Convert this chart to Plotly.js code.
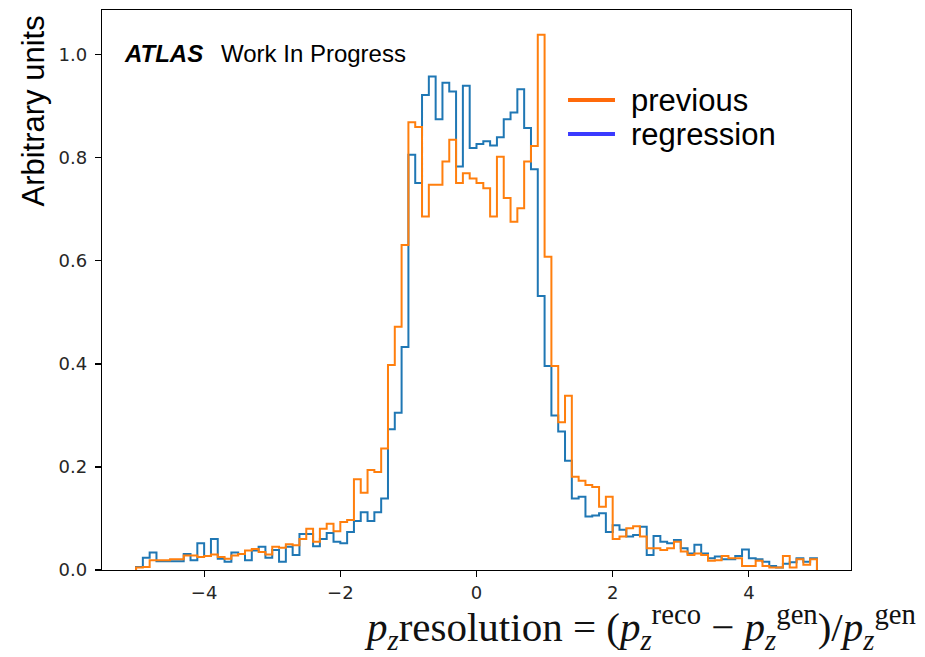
<!DOCTYPE html>
<html>
<head>
<meta charset="utf-8">
<script src="https://cdn.plot.ly/plotly-3.0.1.min.js"></script>
<style>
  html, body { margin: 0; padding: 0; background: #ffffff; }
  #chart { width: 925px; height: 657px; }
</style>
</head>
<body>
<div id="chart"></div>
<script>
// Histogram binning: 100 bins of width 0.1 between -5 and 5
const binLow = -5;
const binWidth = 0.1;

// Normalised bin contents, regression-based reconstruction
const regressionValues = [
  0.006, 0.024, 0.034, 0.017, 0.017, 0.017, 0.017, 0.031, 0.019, 0.052,
  0.027, 0.060, 0.022, 0.016, 0.034, 0.031, 0.019, 0.038, 0.045, 0.024,
  0.039, 0.016, 0.045, 0.029, 0.070, 0.070, 0.046, 0.060, 0.072, 0.055,
  0.052, 0.074, 0.095, 0.112, 0.095, 0.112, 0.139, 0.273, 0.305, 0.433,
  0.806, 0.751, 0.922, 0.958, 0.875, 0.946, 0.929, 0.783, 0.940, 0.819,
  0.827, 0.832, 0.824, 0.840, 0.875, 0.888, 0.933, 0.858, 0.778, 0.532,
  0.396, 0.300, 0.269, 0.212, 0.139, 0.142, 0.104, 0.106, 0.110, 0.074,
  0.087, 0.078, 0.065, 0.068, 0.084, 0.029, 0.066, 0.055, 0.052, 0.058,
  0.042, 0.032, 0.049, 0.032, 0.023, 0.026, 0.021, 0.021, 0.027, 0.040,
  0.023, 0.021, 0.016, 0.008, 0.005, 0.012, 0.015, 0.023, 0.016, 0.023
];

// Normalised bin contents, previous reconstruction
const previousValues = [
  0.005, 0.006, 0.019, 0.019, 0.019, 0.021, 0.021, 0.028, 0.028, 0.025,
  0.027, 0.030, 0.025, 0.022, 0.028, 0.031, 0.038, 0.041, 0.035, 0.030,
  0.045, 0.043, 0.050, 0.048, 0.060, 0.080, 0.055, 0.080, 0.090, 0.075,
  0.093, 0.097, 0.176, 0.150, 0.194, 0.190, 0.236, 0.398, 0.472, 0.631,
  0.869, 0.860, 0.686, 0.748, 0.748, 0.793, 0.835, 0.751, 0.770, 0.760,
  0.751, 0.741, 0.686, 0.802, 0.722, 0.676, 0.702, 0.793, 0.823, 1.039,
  0.608, 0.396, 0.287, 0.338, 0.181, 0.173, 0.165, 0.161, 0.123, 0.142,
  0.060, 0.065, 0.081, 0.085, 0.065, 0.042, 0.042, 0.039, 0.042, 0.055,
  0.036, 0.029, 0.032, 0.029, 0.018, 0.019, 0.027, 0.023, 0.023, 0.008,
  0.008, 0.018, 0.008, 0.005, 0.005, 0.027, 0.005, 0.021, 0.010, 0.021
];

const yTickValues = [0.0, 0.2, 0.4, 0.6, 0.8, 1.0];
const xTickValues = [-4, -2, 0, 2, 4];
const legendNames = ['previous', 'regression'];
const legendColors = ['#ff6a0a', '#3a3aff'];

// Build a step outline (histtype="step" style) from bin contents
function stepOutline(values) {
  const xs = [binLow];
  const ys = [0];
  values.forEach(function (v, i) {
    xs.push(binLow + i * binWidth);
    ys.push(v);
  });
  xs.push(binLow + values.length * binWidth);
  ys.push(0);
  return { x: xs, y: ys };
}

const regStep = stepOutline(regressionValues);
const prevStep = stepOutline(previousValues);

const traces = [
  {
    x: regStep.x, y: regStep.y, type: 'scatter', mode: 'lines', name: 'regression',
    line: { shape: 'hv', color: '#1f77b4', width: 2 },
    showlegend: false, hoverinfo: 'skip'
  },
  {
    x: prevStep.x, y: prevStep.y, type: 'scatter', mode: 'lines', name: 'previous',
    line: { shape: 'hv', color: '#ff7f0e', width: 2 },
    showlegend: false, hoverinfo: 'skip'
  }
];

const axisCommon = {
  showline: true, linecolor: '#000000', linewidth: 1.2, mirror: true,
  ticks: 'outside', ticklen: 6, tickwidth: 1.2, tickcolor: '#000000',
  showgrid: false, zeroline: false,
  tickfont: { family: 'DejaVu Sans', size: 18, color: '#262626' }
};

// Legend drawn as line swatches plus labels in the upper right of the axes
const legendRows = [0.8391, 0.7784];
const legendShapes = legendRows.map(function (yy, i) {
  return {
    type: 'line', xref: 'paper', yref: 'paper',
    x0: 0.6222, x1: 0.6849, y0: yy, y1: yy,
    line: { color: legendColors[i], width: 4 }
  };
});
const legendLabels = legendRows.map(function (yy, i) {
  return {
    text: legendNames[i], xref: 'paper', yref: 'paper',
    x: 0.703, y: yy, xanchor: 'left', yanchor: 'middle', showarrow: false,
    font: { family: 'Liberation Sans', size: 31, color: '#000000' }
  };
});

const layout = {
  width: 925, height: 657,
  margin: { l: 102, r: 74, t: 10, b: 87, pad: 0 },
  paper_bgcolor: '#ffffff', plot_bgcolor: '#ffffff',
  showlegend: false,
  xaxis: Object.assign({}, axisCommon, {
    range: [-5.5, 5.5], tickvals: xTickValues,
    ticktext: xTickValues.map(function (v) { return v < 0 ? '\u2212' + Math.abs(v) : String(v); })
  }),
  yaxis: Object.assign({}, axisCommon, {
    range: [0, 1.087], tickvals: yTickValues, ticklabelstandoff: 4,
    ticktext: yTickValues.map(function (v) { return v.toFixed(1); })
  }),
  shapes: legendShapes,
  annotations: [
    {
      text: '<b><i>ATLAS</i></b>', xref: 'paper', yref: 'paper',
      x: 0.0267, y: 0.923, xanchor: 'left', yanchor: 'middle', showarrow: false,
      font: { family: 'Liberation Sans', size: 24, color: '#000000' }
    },
    {
      text: 'Work In Progress', xref: 'paper', yref: 'paper',
      x: 0.156, y: 0.923, xanchor: 'left', yanchor: 'middle', showarrow: false,
      font: { family: 'Liberation Sans', size: 24, color: '#000000' }
    },
    {
      text: 'Arbitrary units', xref: 'paper', yref: 'paper', textangle: -90,
      x: -0.0908, y: 0.9946, xanchor: 'center', yanchor: 'top', showarrow: false,
      font: { family: 'Liberation Sans', size: 31, color: '#000000' }
    },
    {
      text: '<i>p</i><sub><i>z</i></sub>resolution = (<i>p</i><sub><i>z</i></sub><sup>reco</sup> \u2212 <i>p</i><sub><i>z</i></sub><sup>gen</sup>)/<i>p</i><sub><i>z</i></sub><sup>gen</sup>',
      xref: 'paper', yref: 'paper',
      x: 1.0895, y: -0.101, xanchor: 'right', yanchor: 'middle', showarrow: false,
      font: { family: 'Liberation Serif', size: 41, color: '#111111' }
    }
  ].concat(legendLabels)
};

Plotly.newPlot('chart', traces, layout, { staticPlot: true, displayModeBar: false });
</script>
</body>
</html>
